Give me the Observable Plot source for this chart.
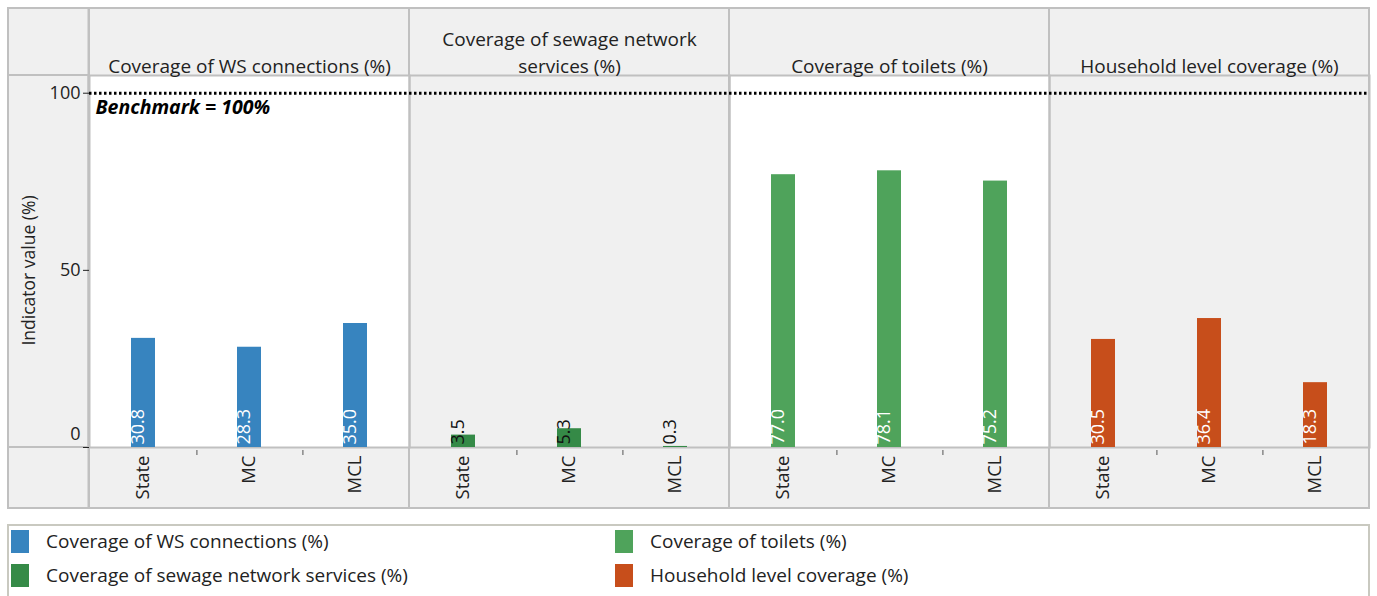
<!DOCTYPE html>
<html>
<head>
<meta charset="utf-8">
<script src="https://cdn.jsdelivr.net/npm/d3@7"></script>
<script src="https://cdn.jsdelivr.net/npm/@observablehq/plot@0.6"></script>
<style>
  body { margin: 0; background: #fff; font-family: "Open Sans", sans-serif; color: #222; }
  #legend { margin: 14px 0 0 7px; width: 1359px; height: 75px; border: 2px solid #c9c9c0; border-bottom: none;
            display: grid; grid-template-columns: 604px auto; grid-auto-rows: 34px; padding-top: 0; box-sizing: content-box; }
  .item { display: flex; align-items: center; font-size: 19px; position: relative; top: -2px; }
  .sw { width: 18px; height: 23px; margin: 0 17px 0 2px; flex: none; }
</style>
</head>
<body>
<div id="chart"></div>
<div id="legend"></div>
<script>
const indicators = [
  "Coverage of WS connections (%)",
  "Coverage of sewage network services (%)",
  "Coverage of toilets (%)",
  "Household level coverage (%)"
];
const headerLabels = [
  "Coverage of WS connections (%)",
  "Coverage of sewage network\nservices (%)",
  "Coverage of toilets (%)",
  "Household level coverage (%)"
];
const levels = ["State", "MC", "MCL"];
const wsValues = [30.8, 28.3, 35.0];
const sewageValues = [3.5, 5.3, 0.3];
const toiletValues = [77.0, 78.1, 75.2];
const householdValues = [30.5, 36.4, 18.3];
const colors = ["#3784bf", "#358a47", "#4fa35b", "#c74e1b"];
const darkLabelIndicators = ["Coverage of sewage network services (%)"];
const yTicks = [0, 50, 100];
const benchmark = 100;
const benchmarkLabel = "Benchmark = 100%";
const yLabel = "Indicator value (%)";

const seriesValues = [wsValues, sewageValues, toiletValues, householdValues];
const data = [];
indicators.forEach((ind, i) => levels.forEach((lv, j) => data.push({indicator: ind, level: lv, value: seriesValues[i][j]})));

const W = 1377, H = 510, mT = 75, mB = 63, mL = 88, mR = 7;
const fw = (W - mL - mR) / indicators.length;
const step = fw / levels.length;
const fh = H - mT - mB;
const border = "#c0c0c0";
const gray = "#f0f0f0";

const plot = Plot.plot({
  width: W, height: H,
  marginTop: mT, marginBottom: mB, marginLeft: mL, marginRight: mR,
  style: {fontFamily: "'Open Sans', sans-serif", fontSize: "18px", color: "#222", background: "white"},
  fx: {domain: indicators, padding: 0, axis: null},
  x: {domain: levels, paddingInner: 0.77, paddingOuter: 0.385, axis: null},
  y: {domain: [0, 105], axis: null},
  color: {domain: indicators, range: colors},
  marks: [
    Plot.rect(indicators, {fx: d => d, insetTop: -(mT - 8), insetBottom: -(mB - 2), fill: gray, stroke: border, strokeWidth: 2}),
    Plot.rect([indicators[0]], {fx: d => d, insetTop: -(mT - 8), insetBottom: -(mB - 2), insetLeft: -(mL - 7), insetRight: fw, fill: gray, stroke: border, strokeWidth: 2}),
    Plot.rect([indicators[0], indicators[2]], {fx: d => d, fill: "white"}),
    Plot.rect([indicators[0]], {fx: d => d, insetLeft: -(mL - 7), insetRight: fw, fill: "none", stroke: border, strokeWidth: 2}),
    Plot.frame({stroke: border, strokeWidth: 2}),
    Plot.ruleX(levels.slice(0, 2), {x: d => d, dx: step / 2, insetTop: fh + 3, insetBottom: -8, stroke: "#555", strokeWidth: 1}),
    Plot.barY(data, {fx: "indicator", x: "level", y: "value", fill: "indicator"}),
    Plot.ruleY([benchmark], {y: d => d, stroke: "black", strokeWidth: 3, strokeDasharray: "2.5,2.5"}),
    Plot.text(data.filter(d => !darkLabelIndicators.includes(d.indicator)), {fx: "indicator", x: "level", frameAnchor: "bottom", text: d => d.value.toFixed(1), rotate: -90, textAnchor: "start", dy: -3, fill: "white", fontSize: 18}),
    Plot.text(data.filter(d => darkLabelIndicators.includes(d.indicator)), {fx: "indicator", x: "level", frameAnchor: "bottom", text: d => d.value.toFixed(1), rotate: -90, textAnchor: "start", dy: -3, fill: "#111", fontSize: 18}),
    Plot.text(indicators, {fx: d => d, text: (d, i) => headerLabels[i], frameAnchor: "top", lineAnchor: "bottom", dy: -3, fontSize: 19, lineHeight: 1.38}),
    Plot.text([benchmarkLabel], {fx: () => indicators[0], y: () => benchmark, text: d => d, frameAnchor: "left", textAnchor: "start", dx: 6, dy: 15, fontWeight: "bold", fontStyle: "italic", fontSize: 19.5, fill: "black"}),
    Plot.axisX({tickRotate: -90, tickSize: 0, tickPadding: 8, label: null, fontSize: 18.5}),
    Plot.axisY({ticks: yTicks.filter(t => t !== 0), tickSize: 6, tickPadding: 3, label: null, fontSize: 18}),
    Plot.axisY({ticks: [0], tickSize: 6, tickPadding: 3, label: null, text: null}),
    Plot.axisY({ticks: [0], tickSize: 0, tickPadding: 9, dy: -13, label: null, fontSize: 18}),
    Plot.text([yLabel], {fx: () => indicators[0], text: d => d, frameAnchor: "left", textAnchor: "middle", rotate: -90, dx: -60, dy: 9, fontSize: 17.5})
  ]
});
document.getElementById("chart").appendChild(plot);

const legend = document.getElementById("legend");
[0, 2, 1, 3].forEach(i => {
  const it = document.createElement("div");
  it.className = "item";
  const sw = document.createElement("span");
  sw.className = "sw";
  sw.style.background = colors[i];
  it.appendChild(sw);
  it.appendChild(document.createTextNode(indicators[i]));
  legend.appendChild(it);
});
</script>
</body>
</html>
